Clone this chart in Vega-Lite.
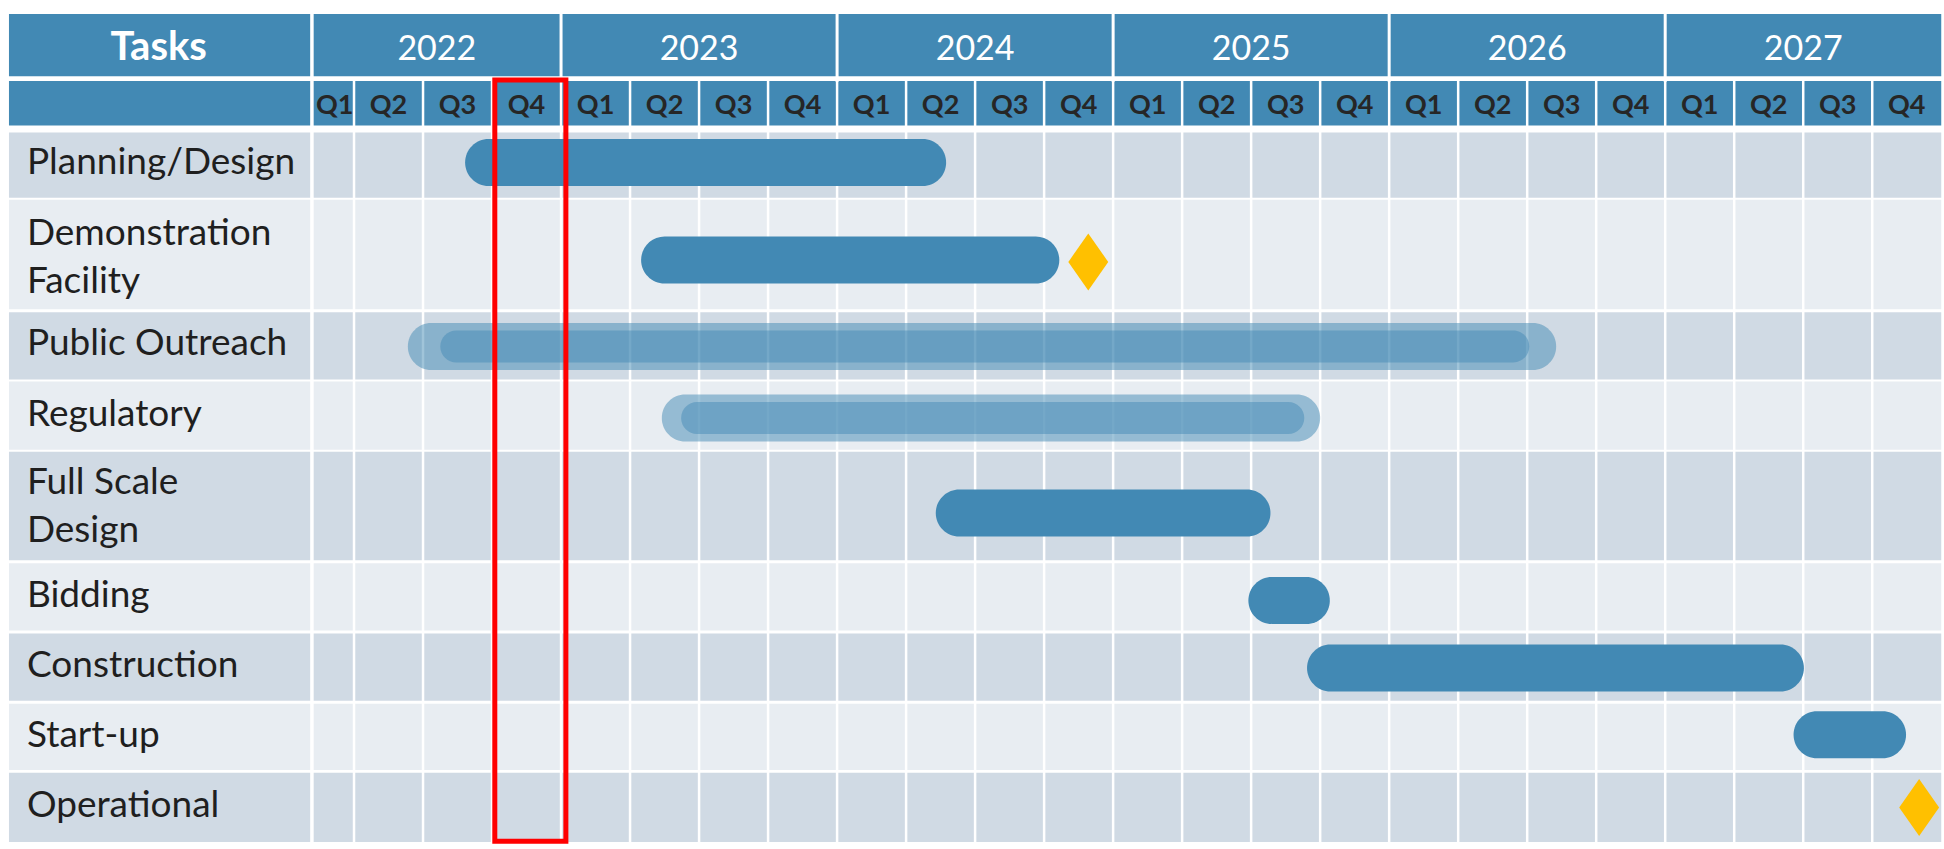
{
  "$schema": "https://vega.github.io/schema/vega-lite/v6.json",
  "width": 1944,
  "height": 849,
  "autosize": {"type": "fit", "contains": "padding"},
  "padding": 0,
  "background": "white",
  "config": {"view": {"stroke": null}},
  "datasets": {
    "headers": [
      {"row": "years", "top": 0.127, "bottom": 1.018},
      {"row": "quarters", "top": 1.088, "bottom": 1.724}
    ],
    "tasks": [
      {"task": "Planning/Design", "label": "Planning/Design", "lines": 1, "top": 1.823, "bottom": 2.756, "mid": 2.26, "shade": "dark"},
      {"task": "Demonstration Facility", "label": "Demonstration\nFacility", "lines": 2, "top": 2.784, "bottom": 4.353, "mid": 3.62, "shade": "light"},
      {"task": "Public Outreach", "label": "Public Outreach", "lines": 1, "top": 4.396, "bottom": 5.357, "mid": 4.85, "shade": "dark"},
      {"task": "Regulatory", "label": "Regulatory", "lines": 1, "top": 5.385, "bottom": 6.36, "mid": 5.86, "shade": "light"},
      {"task": "Full Scale Design", "label": "Full Scale\nDesign", "lines": 2, "top": 6.389, "bottom": 7.943, "mid": 7.18, "shade": "dark"},
      {"task": "Bidding", "label": "Bidding", "lines": 1, "top": 7.986, "bottom": 8.947, "mid": 8.46, "shade": "light"},
      {"task": "Construction", "label": "Construction", "lines": 1, "top": 8.989, "bottom": 9.951, "mid": 9.46, "shade": "dark"},
      {"task": "Start-up", "label": "Start-up", "lines": 1, "top": 9.993, "bottom": 10.94, "mid": 10.46, "shade": "light"},
      {"task": "Operational", "label": "Operational", "lines": 1, "top": 10.982, "bottom": 11.97, "mid": 11.46, "shade": "dark"}
    ],
    "years": [
      {"year": "2022", "start": 0, "mid": 2.2},
      {"year": "2023", "start": 4, "mid": 6},
      {"year": "2024", "start": 8, "mid": 10},
      {"year": "2025", "start": 12, "mid": 14},
      {"year": "2026", "start": 16, "mid": 18},
      {"year": "2027", "start": 20, "mid": 22}
    ],
    "quarters": [
      {"q": 0, "label": "Q1", "year": "2022", "mid": 0.72},
      {"q": 1, "label": "Q2", "year": "2022", "mid": 1.5},
      {"q": 2, "label": "Q3", "year": "2022", "mid": 2.5},
      {"q": 3, "label": "Q4", "year": "2022", "mid": 3.5},
      {"q": 4, "label": "Q1", "year": "2023", "mid": 4.5},
      {"q": 5, "label": "Q2", "year": "2023", "mid": 5.5},
      {"q": 6, "label": "Q3", "year": "2023", "mid": 6.5},
      {"q": 7, "label": "Q4", "year": "2023", "mid": 7.5},
      {"q": 8, "label": "Q1", "year": "2024", "mid": 8.5},
      {"q": 9, "label": "Q2", "year": "2024", "mid": 9.5},
      {"q": 10, "label": "Q3", "year": "2024", "mid": 10.5},
      {"q": 11, "label": "Q4", "year": "2024", "mid": 11.5},
      {"q": 12, "label": "Q1", "year": "2025", "mid": 12.5},
      {"q": 13, "label": "Q2", "year": "2025", "mid": 13.5},
      {"q": 14, "label": "Q3", "year": "2025", "mid": 14.5},
      {"q": 15, "label": "Q4", "year": "2025", "mid": 15.5},
      {"q": 16, "label": "Q1", "year": "2026", "mid": 16.5},
      {"q": 17, "label": "Q2", "year": "2026", "mid": 17.5},
      {"q": 18, "label": "Q3", "year": "2026", "mid": 18.5},
      {"q": 19, "label": "Q4", "year": "2026", "mid": 19.5},
      {"q": 20, "label": "Q1", "year": "2027", "mid": 20.5},
      {"q": 21, "label": "Q2", "year": "2027", "mid": 21.5},
      {"q": 22, "label": "Q3", "year": "2027", "mid": 22.5},
      {"q": 23, "label": "Q4", "year": "2027", "mid": 23.5}
    ],
    "bars": [
      {"task": "Planning/Design", "start": 2.61, "end": 9.58, "lane": 2.254, "style": "solid"},
      {"task": "Demonstration Facility", "start": 5.16, "end": 11.22, "lane": 3.647, "style": "solid"},
      {"task": "Public Outreach", "start": 1.78, "end": 18.42, "lane": 4.883, "style": "outer"},
      {"task": "Public Outreach", "start": 2.25, "end": 18.03, "lane": 4.883, "style": "inner"},
      {"task": "Regulatory", "start": 5.46, "end": 15.0, "lane": 5.908, "style": "outer"},
      {"task": "Regulatory", "start": 5.74, "end": 14.77, "lane": 5.908, "style": "inner"},
      {"task": "Full Scale Design", "start": 9.43, "end": 14.28, "lane": 7.265, "style": "solid"},
      {"task": "Bidding", "start": 13.96, "end": 15.14, "lane": 8.516, "style": "solid"},
      {"task": "Construction", "start": 14.81, "end": 22.01, "lane": 9.484, "style": "solid"},
      {"task": "Start-up", "start": 21.86, "end": 23.49, "lane": 10.438, "style": "solid"}
    ],
    "milestones": [
      {"task": "Demonstration Facility", "at": 11.64, "lane": 3.675},
      {"task": "Operational", "at": 23.68, "lane": 11.477}
    ],
    "current": [
      {"label": "2022 Q4", "from": 3.04, "to": 4.07, "top": 1.074, "bottom": 11.96}
    ]
  },
  "layer": [
    {
      "data": {"name": "headers"},
      "mark": {"type": "rect", "color": "#4289B4"},
      "encoding": {
        "x": {"datum": -4, "type": "quantitative", "scale": {"domain": [-4.13, 24.04], "nice": false, "zero": false}, "axis": null},
        "x2": {"datum": 24},
        "y": {"field": "top", "type": "quantitative", "scale": {"domain": [0, 12], "nice": false, "zero": false, "reverse": true}, "axis": null},
        "y2": {"field": "bottom"}
      }
    },
    {
      "data": {"name": "tasks"},
      "mark": {"type": "rect"},
      "encoding": {
        "x": {"datum": -4, "type": "quantitative", "scale": {"domain": [-4.13, 24.04], "nice": false, "zero": false}, "axis": null},
        "x2": {"datum": 24},
        "y": {"field": "top", "type": "quantitative", "scale": {"domain": [0, 12], "nice": false, "zero": false, "reverse": true}, "axis": null},
        "y2": {"field": "bottom"},
        "color": {"field": "shade", "type": "nominal", "scale": {"domain": ["dark", "light"], "range": ["#D0DAE4", "#E8EDF2"]}, "legend": null}
      }
    },
    {
      "data": {"name": "quarters"},
      "transform": [{"filter": "datum.q > 0"}],
      "mark": {"type": "rule", "color": "white", "strokeWidth": 2.5},
      "encoding": {
        "x": {"field": "q", "type": "quantitative", "scale": {"domain": [-4.13, 24.04], "nice": false, "zero": false}, "axis": null},
        "y": {"datum": 1.05, "type": "quantitative", "scale": {"domain": [0, 12], "nice": false, "zero": false, "reverse": true}, "axis": null},
        "y2": {"datum": 12}
      }
    },
    {
      "data": {"name": "years"},
      "transform": [{"filter": "datum.start > 0"}],
      "mark": {"type": "rule", "color": "white", "strokeWidth": 3},
      "encoding": {
        "x": {"field": "start", "type": "quantitative", "scale": {"domain": [-4.13, 24.04], "nice": false, "zero": false}, "axis": null},
        "y": {"datum": 0, "type": "quantitative", "scale": {"domain": [0, 12], "nice": false, "zero": false, "reverse": true}, "axis": null},
        "y2": {"datum": 1.1}
      }
    },
    {
      "data": {"values": [{"separator": "tasks"}]},
      "mark": {"type": "rule", "color": "white", "strokeWidth": 3.5},
      "encoding": {
        "x": {"datum": 0.39, "type": "quantitative", "scale": {"domain": [-4.13, 24.04], "nice": false, "zero": false}, "axis": null},
        "y": {"datum": 0, "type": "quantitative", "scale": {"domain": [0, 12], "nice": false, "zero": false, "reverse": true}, "axis": null},
        "y2": {"datum": 12}
      }
    },
    {
      "data": {"name": "bars"},
      "transform": [{"filter": "datum.style === 'solid'"}],
      "mark": {"type": "bar", "color": "#4289B4", "height": 47, "cornerRadius": 23.5},
      "encoding": {
        "x": {"field": "start", "type": "quantitative", "scale": {"domain": [-4.13, 24.04], "nice": false, "zero": false}, "axis": null},
        "x2": {"field": "end"},
        "y": {"field": "lane", "type": "quantitative", "scale": {"domain": [0, 12], "nice": false, "zero": false, "reverse": true}, "axis": null}
      }
    },
    {
      "data": {"name": "bars"},
      "transform": [{"filter": "datum.style === 'outer'"}],
      "mark": {"type": "bar", "color": "#4289B4", "opacity": 0.5, "height": 47, "cornerRadius": 23.5},
      "encoding": {
        "x": {"field": "start", "type": "quantitative", "scale": {"domain": [-4.13, 24.04], "nice": false, "zero": false}, "axis": null},
        "x2": {"field": "end"},
        "y": {"field": "lane", "type": "quantitative", "scale": {"domain": [0, 12], "nice": false, "zero": false, "reverse": true}, "axis": null}
      }
    },
    {
      "data": {"name": "bars"},
      "transform": [{"filter": "datum.style === 'inner'"}],
      "mark": {"type": "bar", "color": "#4289B4", "opacity": 0.47, "height": 32, "cornerRadius": 16},
      "encoding": {
        "x": {"field": "start", "type": "quantitative", "scale": {"domain": [-4.13, 24.04], "nice": false, "zero": false}, "axis": null},
        "x2": {"field": "end"},
        "y": {"field": "lane", "type": "quantitative", "scale": {"domain": [0, 12], "nice": false, "zero": false, "reverse": true}, "axis": null}
      }
    },
    {
      "data": {"name": "milestones"},
      "mark": {"type": "point", "shape": "M0,-1L0.7,0L0,1L-0.7,0Z", "filled": true, "color": "#FFC000", "opacity": 1, "size": 3249, "strokeWidth": 0},
      "encoding": {
        "x": {"field": "at", "type": "quantitative", "scale": {"domain": [-4.13, 24.04], "nice": false, "zero": false}, "axis": null},
        "y": {"field": "lane", "type": "quantitative", "scale": {"domain": [0, 12], "nice": false, "zero": false, "reverse": true}, "axis": null}
      }
    },
    {
      "data": {"values": [{"title": "Tasks"}]},
      "mark": {"type": "text", "font": "Lato", "fontSize": 40, "fontWeight": "bold", "color": "white", "align": "center", "baseline": "middle"},
      "encoding": {
        "x": {"datum": -1.83, "type": "quantitative", "scale": {"domain": [-4.13, 24.04], "nice": false, "zero": false}, "axis": null},
        "y": {"datum": 0.62, "type": "quantitative", "scale": {"domain": [0, 12], "nice": false, "zero": false, "reverse": true}, "axis": null},
        "text": {"field": "title"}
      }
    },
    {
      "data": {"name": "years"},
      "mark": {"type": "text", "font": "Lato", "fontSize": 34, "color": "white", "align": "center", "baseline": "middle"},
      "encoding": {
        "x": {"field": "mid", "type": "quantitative", "scale": {"domain": [-4.13, 24.04], "nice": false, "zero": false}, "axis": null},
        "y": {"datum": 0.64, "type": "quantitative", "scale": {"domain": [0, 12], "nice": false, "zero": false, "reverse": true}, "axis": null},
        "text": {"field": "year"}
      }
    },
    {
      "data": {"name": "quarters"},
      "mark": {"type": "text", "font": "Lato", "fontSize": 27, "fontWeight": "bold", "color": "#262626", "align": "center", "baseline": "middle", "letterSpacing": -1},
      "encoding": {
        "x": {"field": "mid", "type": "quantitative", "scale": {"domain": [-4.13, 24.04], "nice": false, "zero": false}, "axis": null},
        "y": {"datum": 1.44, "type": "quantitative", "scale": {"domain": [0, 12], "nice": false, "zero": false, "reverse": true}, "axis": null},
        "text": {"field": "label"}
      }
    },
    {
      "data": {"name": "tasks"},
      "transform": [{"filter": "datum.lines === 1"}],
      "mark": {"type": "text", "font": "Lato", "fontSize": 37, "color": "#1F1F1F", "align": "left", "baseline": "middle"},
      "encoding": {
        "x": {"datum": -3.74, "type": "quantitative", "scale": {"domain": [-4.13, 24.04], "nice": false, "zero": false}, "axis": null},
        "y": {"field": "mid", "type": "quantitative", "scale": {"domain": [0, 12], "nice": false, "zero": false, "reverse": true}, "axis": null},
        "text": {"field": "label"}
      }
    },
    {
      "data": {"name": "tasks"},
      "transform": [{"filter": "datum.lines === 2"}],
      "mark": {"type": "text", "font": "Lato", "fontSize": 37, "color": "#1F1F1F", "align": "left", "baseline": "middle", "lineBreak": "\n", "lineHeight": 48, "dy": -24},
      "encoding": {
        "x": {"datum": -3.74, "type": "quantitative", "scale": {"domain": [-4.13, 24.04], "nice": false, "zero": false}, "axis": null},
        "y": {"field": "mid", "type": "quantitative", "scale": {"domain": [0, 12], "nice": false, "zero": false, "reverse": true}, "axis": null},
        "text": {"field": "label"}
      }
    },
    {
      "data": {"name": "current"},
      "mark": {"type": "rect", "fill": null, "fillOpacity": 0, "stroke": "#FF0000", "strokeWidth": 5},
      "encoding": {
        "x": {"field": "from", "type": "quantitative", "scale": {"domain": [-4.13, 24.04], "nice": false, "zero": false}, "axis": null},
        "x2": {"field": "to"},
        "y": {"field": "top", "type": "quantitative", "scale": {"domain": [0, 12], "nice": false, "zero": false, "reverse": true}, "axis": null},
        "y2": {"field": "bottom"}
      }
    }
  ]
}
